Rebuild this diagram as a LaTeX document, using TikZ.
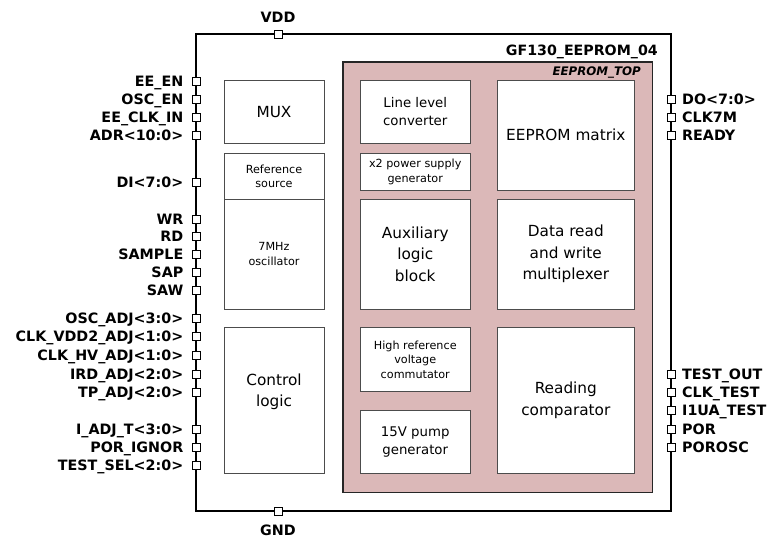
\documentclass[tikz,border=0pt]{standalone}
\usepackage{fontspec}
\setmainfont{DejaVu Sans}
\definecolor{pinkfill}{RGB}{219,184,184}
\tikzset{
 chip/.style={draw=black, line width=2.6pt, outer sep=0pt, inner sep=0pt},
 topblk/.style={draw=black!85, line width=1.4pt, fill=pinkfill, outer sep=0pt, inner sep=0pt},
 blk/.style={draw=black!70, line width=0.9pt, fill=white, inner sep=1pt, outer sep=0pt, align=center},
 bigtxt/.style={font=\fontsize{15.3}{21.5}\selectfont},
 medtxt/.style={font=\fontsize{13.3}{18}\selectfont},
 smalltxt/.style={font=\fontsize{11.2}{14.5}\selectfont},
 pad/.style={draw=black, fill=white, line width=0.8pt, minimum size=8pt, inner sep=0pt},
 pinlbl/.style={font=\bfseries\fontsize{14.3}{16}\selectfont, text height=10.4pt, text depth=0pt, inner sep=0pt},
 titlelbl/.style={font=\bfseries\fontsize{14.2}{16}\selectfont, inner sep=0pt},
 toplbl/.style={font=\bfseries\itshape\fontsize{11.8}{14}\selectfont, inner sep=0pt},
}
\newcommand\chipblock[7]{%
 \pgfmathsetmacro\bw{#4-#2}\pgfmathsetmacro\bh{#5-#3}%
 \node[blk,#6,minimum width=\bw pt,minimum height=\bh pt,anchor=north west] (#1) at (#2,#3) {#7};}
\begin{document}
\begin{tikzpicture}[x=1pt,y=-1pt]
\useasboundingbox (0,0) rectangle (782,538);
\node[chip, minimum width=475pt, minimum height=477pt, anchor=north west] (chip) at (196,34) {};
\node[titlelbl, anchor=base east] (title) at (658,55) {GF130\_EEPROM\_04};
\node[topblk, minimum width=309.7pt, minimum height=430.3pt, anchor=north west] (top) at (343,62) {};
\node[toplbl, anchor=base east] (toptitle) at (641,75) {EEPROM\_TOP};
% left column
\chipblock{mux}{224}{80.5}{324}{143.5}{bigtxt}{MUX}
\chipblock{refsrc}{224}{153.7}{324}{199.3}{smalltxt}{Reference\\source}
\chipblock{osc}{224}{199.3}{324}{309}{smalltxt}{7MHz\\oscillator}
\chipblock{ctrl}{224}{327.3}{324}{473.7}{bigtxt}{}
\node[bigtxt, align=center, inner sep=0pt] (ctrltxt) at (274,392) {Control\\logic};
% middle column
\chipblock{llc}{360.5}{80.5}{470}{143.5}{medtxt}{Line level\\converter}
\chipblock{xtwo}{360.5}{153.7}{470}{190}{smalltxt}{x2 power supply\\generator}
\chipblock{aux}{360.5}{199.3}{470}{309}{bigtxt}{Auxiliary\\logic\\block}
\chipblock{hrv}{360.5}{327.3}{470}{391.7}{smalltxt}{High reference\\voltage\\commutator}
\chipblock{pump}{360.5}{410}{470}{473.7}{medtxt}{15V pump\\generator}
% right column
\chipblock{mat}{497.3}{80.5}{634.3}{190}{bigtxt}{EEPROM matrix}
\chipblock{drw}{497.3}{199.3}{634.3}{309}{bigtxt}{Data read\\and write\\multiplexer}
\chipblock{rcmp}{497.3}{327.3}{634.3}{473.7}{bigtxt}{Reading\\comparator}
% supply pads
\node[pad] (vdd) at (278,34) {};
\node[pinlbl, anchor=base] (vddl) at (278,22.7) {VDD};
\node[pad] (gnd) at (278,511) {};
\node[pinlbl, anchor=base] (gndl) at (278,535) {GND};
% left pins
\foreach \yy/\lbl [count=\i] in {81/EE\_EN, 99/OSC\_EN, 117/EE\_CLK\_IN, 135/ADR<10:0>, 182/DI<7:0>,
  219/WR, 236/RD, 254/SAMPLE, 272/SAP, 290/SAW,
  318.5/OSC\_ADJ<3:0>, 336.7/CLK\_VDD2\_ADJ<1:0>, 355/CLK\_HV\_ADJ<1:0>, 374/IRD\_ADJ<2:0>, 392.3/TP\_ADJ<2:0>,
  429/I\_ADJ\_T<3:0>, 447.3/POR\_IGNOR, 465.3/TEST\_SEL<2:0>} {
  \node[pad] (pl\i) at (196,\yy) {};
  \node[pinlbl, anchor=east] (tl\i) at (183.5,\yy) {\lbl};
}
% right pins
\foreach \yy/\lbl [count=\i] in {99.5/DO<7:0>, 117.5/CLK7M, 135.3/READY,
  374/TEST\_OUT, 392.3/CLK\_TEST, 410.5/I1UA\_TEST, 429/POR, 447/POROSC} {
  \node[pad] (pr\i) at (671,\yy) {};
  \node[pinlbl, anchor=west] (tr\i) at (682,\yy) {\lbl};
}
\end{tikzpicture}
\end{document}
